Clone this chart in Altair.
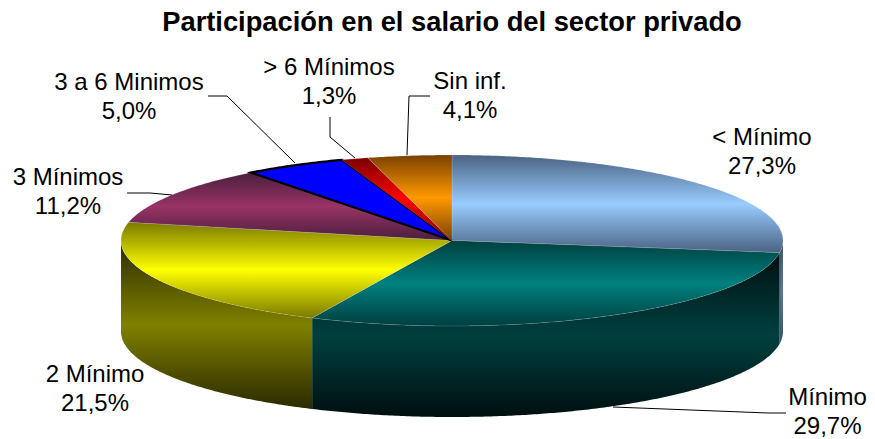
import math
import altair as alt
import pandas as pd

categories = ["< Mínimo", "Mínimo", "2 Mínimo", "3 Mínimos", "3 a 6 Minimos", "> 6 Mínimos", "Sin inf."]
values = [27.3, 29.7, 21.5, 11.2, 5.0, 1.3, 4.1]
value_labels = ["27,3%", "29,7%", "21,5%", "11,2%", "5,0%", "1,3%", "4,1%"]
title_text = "Participación en el salario del sector privado"

edge_colors = ["#4A6282", "#003F3F", "#7A7A00", "#4A1F3C", "#0000FF", "#7A0000", "#7A4000"]
mid_colors = ["#99CCFF", "#008080", "#FFFF00", "#993366", "#0000FF", "#FF0000", "#FF9900"]
wall_edge = ["#39506B", "#000F0F", "#2A2A00"]
wall_mid = ["#5A7696", "#004040", "#808000"]

CX, CY, RX, RY, DEPTH = 452.0, 240.5, 331.0, 85.5, 91.0
W, H = 859, 431
OX, OY = 8, 8

label_pos = [(762, 137.5), (827.5, 397.5), (95, 374.5), (68, 177.5), (129, 82.5), (329, 67.5), (470, 81.5)]
LINE_GAP = 29.5
leaders = {
    "Mínimo": [(786, 413), (768, 413), (613, 407)],
    "3 Mínimos": [(127, 193), (150, 193), (172, 195)],
    "3 a 6 Minimos": [(208, 96), (227, 96), (295, 163)],
    "> 6 Mínimos": [(330, 117), (330, 137), (355, 158)],
    "Sin inf.": [(430, 96), (409, 96), (407, 155)],
}


def pt(deg, dy=0.0):
    r = math.radians(deg)
    return CX + RX * math.sin(r), CY - RY * math.cos(r) + dy


def grad(edge, mid):
    return alt.LinearGradient(
        gradient="linear", x1=0, x2=0, y1=0, y2=1,
        stops=[alt.GradientStop(color=edge, offset=0),
               alt.GradientStop(color=mid, offset=0.5),
               alt.GradientStop(color=edge, offset=1)],
    )


X = alt.X("x:Q", scale=alt.Scale(domain=[OX, OX + W], range=[0, W]), axis=None)
Y = alt.Y("y:Q", scale=alt.Scale(domain=[OY + H, OY], range=[H, 0]), axis=None)
Y2 = alt.Y2("y2:Q")

total = sum(values)
angles = [0.0]
for v in values:
    angles.append(angles[-1] + v / total * 360.0)

layers = []

# side walls of the visible front
wall_ranges = [(90.0, angles[1], 0), (angles[1], angles[2], 1), (angles[2], 270.0, 2)]
for a0, a1, idx in wall_ranges:
    n = max(2, int(a1 - a0) * 2)
    rows = []
    for i in range(n + 1):
        x, y = pt(a0 + (a1 - a0) * i / n)
        rows.append({"x": x, "y": y, "y2": y + DEPTH})
    layers.append(
        alt.Chart(pd.DataFrame(rows))
        .mark_area(fill=grad(wall_edge[idx], wall_mid[idx]), clip=False)
        .encode(x=X, y=Y, y2=Y2)
    )

# top slices
for idx, (a0, a1) in enumerate(zip(angles[:-1], angles[1:])):
    n = max(2, int(a1 - a0) * 2)
    rows = [{"x": CX, "y": CY, "i": 0}]
    for i in range(n + 1):
        x, y = pt(a0 + (a1 - a0) * i / n)
        rows.append({"x": x, "y": y, "i": i + 1})
    rows.append({"x": CX, "y": CY, "i": n + 2})
    props = dict(fill=grad(edge_colors[idx], mid_colors[idx]), strokeWidth=0.6, stroke="#FFFFFF", strokeOpacity=0.25)
    if categories[idx] == "3 a 6 Minimos":
        props = dict(fill=mid_colors[idx], stroke="#000000", strokeWidth=2.2)
    layers.append(
        alt.Chart(pd.DataFrame(rows))
        .mark_line(interpolate="linear", **props)
        .encode(x=X, y=Y, order=alt.Order("i:Q"))
    )

# leader lines
for name, pts in leaders.items():
    rows = [{"x": p[0], "y": p[1], "i": i} for i, p in enumerate(pts)]
    layers.append(
        alt.Chart(pd.DataFrame(rows))
        .mark_line(color="#000000", strokeWidth=1)
        .encode(x=X, y=Y, order=alt.Order("i:Q"))
    )

# labels
rows = []
for c, vl, p in zip(categories, value_labels, label_pos):
    rows.append({"x": p[0], "y": p[1], "t": c})
    rows.append({"x": p[0], "y": p[1] + LINE_GAP, "t": vl})
layers.append(
    alt.Chart(pd.DataFrame(rows))
    .mark_text(font="Liberation Sans", fontSize=24, color="#000000", align="center", baseline="middle")
    .encode(x=X, y=Y, text="t:N")
)

# title
layers.append(
    alt.Chart(pd.DataFrame([{"x": 452, "y": 23, "t": title_text}]))
    .mark_text(font="Liberation Sans", fontSize=27.3, fontWeight="bold", color="#000000", align="center", baseline="middle")
    .encode(x=X, y=Y, text="t:N")
)

chart = (
    alt.layer(*layers)
    .properties(width=W, height=H, padding=0, autosize=alt.AutoSizeParams(type="none"), background="#FFFFFF")
    .configure_view(stroke=None)
)
chart.save("out.html", embed_options={"renderer": "svg", "actions": False})
